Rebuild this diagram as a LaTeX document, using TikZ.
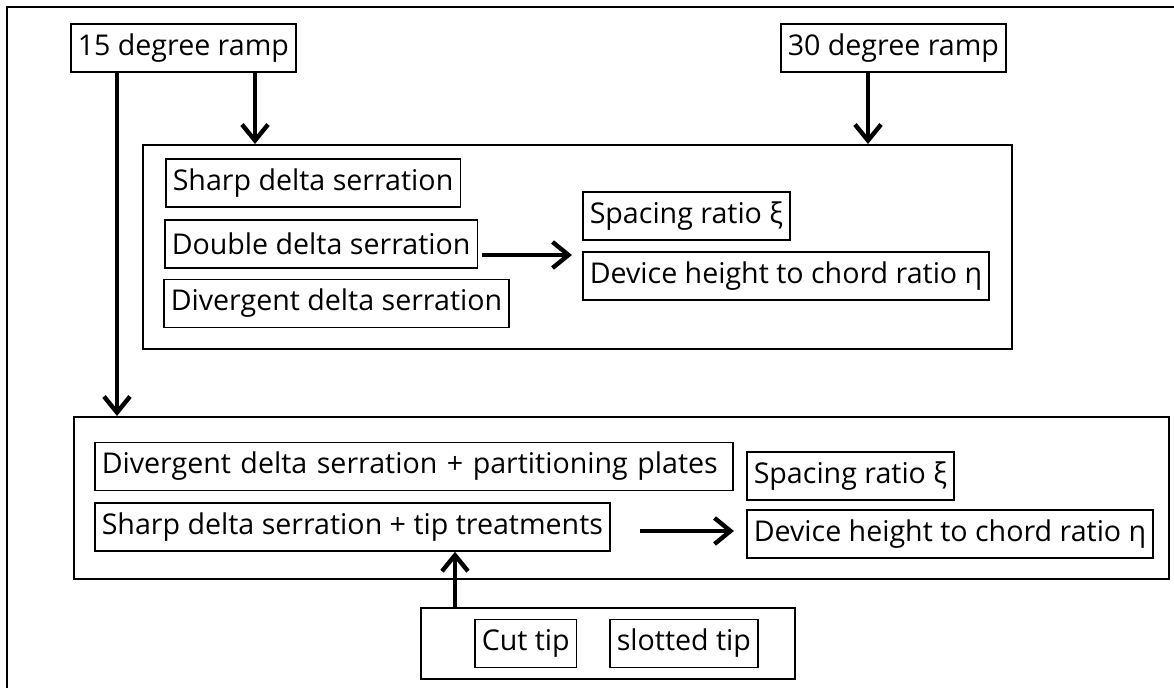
\documentclass[tikz,border=0pt]{standalone}
\usepackage{fontspec}
\setmainfont{Open Sans}
\usetikzlibrary{arrows.meta}
\tikzset{
  item/.style={draw,line width=.75pt,inner xsep=3.5pt,inner ysep=0pt,minimum height=24pt,anchor=west},
  group/.style={draw,line width=1pt,inner sep=0pt},
  arr/.style={line width=2.2pt,-{Straight Barb[length=8pt,width=13pt]}},
}
\begin{document}
\begin{tikzpicture}[x=.5pt,y=-.5pt,font=\fontsize{14.3}{16}\selectfont]
  \useasboundingbox (0,0) rectangle (1174,688);
  \draw[line width=1pt] (1174,7) -- (7,7) -- (7,688);
  % ramps
  \node[item] (ramp15) at (70,48) {15 degree ramp};
  \node[item] (ramp30) at (780,48) {30 degree ramp};
  % upper group
  \node[group,minimum width=434.5pt,minimum height=102pt] (upper) at (577.5,247) {};
  \node[item] (sharp) at (165,183) {Sharp delta serration};
  \node[item] (double) at (164,244) {Double delta serration};
  \node[item] (diverg) at (163,303.5) {Divergent delta serration};
  \node[item] (spacingA) at (582,216) {Spacing ratio ξ};
  \node[item] (deviceA) at (582,276) {Device height to chord ratio η};
  % lower group
  \node[group,minimum width=547.5pt,minimum height=81pt] (lower) at (621.5,498) {};
  \node[item,text width=312pt,align=left] (plates) at (94,466.5) {Divergent delta serration + partitioning plates};
  \node[item] (tiptreat) at (94,527) {Sharp delta serration + tip treatments};
  \node[item] (spacingB) at (746,476) {Spacing ratio ξ};
  \node[item] (deviceB) at (746,534) {Device height to chord ratio η};
  % tip group
  \node[group,minimum width=187pt,minimum height=35.5pt] (tips) at (608,643.5) {};
  \node[item] (cut) at (474,643.5) {Cut tip};
  \node[item] (slotted) at (609,643.5) {slotted tip};
  % connectors
  \coordinate (xa) at (255,0);
  \coordinate (xb) at (117,0);
  \coordinate (xc) at (868,0);
  \coordinate (xd) at (455,0);
  \coordinate (a1) at (482,255);
  \coordinate (a2) at (572,255);
  \coordinate (b1) at (640,531);
  \coordinate (b2) at (734,531);
  \draw[arr] (ramp15.south -| xa) -- (upper.north -| xa);
  \draw[arr] (ramp15.south -| xb) -- (lower.north -| xb);
  \draw[arr] (ramp30.south -| xc) -- (upper.north -| xc);
  \draw[arr] (tips.north -| xd) -- (tiptreat.south -| xd);
  \draw[arr] (a1) -- (a2);
  \draw[arr] (b1) -- (b2);
\end{tikzpicture}
\end{document}
